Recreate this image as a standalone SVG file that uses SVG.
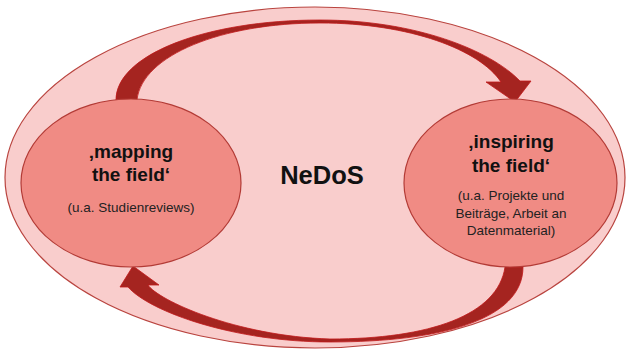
<svg xmlns="http://www.w3.org/2000/svg" width="628" height="351" viewBox="0 0 628 351">
<style>
.outer{fill:#f9cdcc;stroke:#b9443f;stroke-width:1.2}
.node{fill:#f08b84;stroke:#b33b36;stroke-width:1.2}
.arrow{fill:#a52420;stroke:#c0191b;stroke-width:0.8;stroke-linejoin:miter}
.t{font-family:"Liberation Sans",Arial,sans-serif;fill:#111;text-anchor:middle}
.b{font-weight:bold;font-size:19px}
.s{font-size:13.5px;fill:#222}
</style>
<rect width="628" height="351" fill="#ffffff"/>
<g id="nedos">
<ellipse class="outer" cx="315" cy="177.5" rx="310" ry="170.5"/>
<text class="t" x="322" y="184" style="font-weight:bold;font-size:25.5px">NeDoS</text>
</g>
<g id="connectors">
<path class="arrow" d="M116,100 C116,55 205,20 320,20 C415,20 490,50 520,81 L531,81 L515,102 L486,82 L501,82 C480,50 410,23 320,23 C222,23 142,55 137,100 Z"/>
<path class="arrow" d="M523,267 C523,320 440,342 330,342 C235,342 150,312 128,287 L120,287 L133,266 L159,285 L148,285 C158,300 235,336 330,339 C430,339 498,315 505,267 Z"/>
</g>
<g id="mapping">
<ellipse class="node" cx="131" cy="183" rx="110" ry="84"/>
<text class="t b" x="131" y="158">‚mapping</text>
<text class="t b" x="131" y="181">the field‘</text>
<text class="t s" x="131" y="212">(u.a. Studienreviews)</text>
</g>
<g id="inspiring">
<ellipse class="node" cx="510.5" cy="183" rx="106.5" ry="84"/>
<text class="t b" x="511" y="148">‚inspiring</text>
<text class="t b" x="511" y="172">the field‘</text>
<text class="t s" x="511" y="200">(u.a. Projekte und</text>
<text class="t s" x="511" y="218">Beiträge, Arbeit an</text>
<text class="t s" x="511" y="235">Datenmaterial)</text>
</g>
</svg>
